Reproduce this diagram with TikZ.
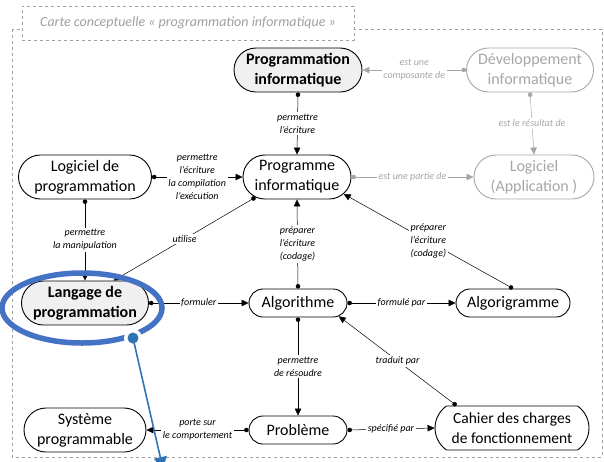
\documentclass[tikz,border=0pt]{standalone}
\usepackage{fontspec}
\setmainfont{Carlito}
\usetikzlibrary{shapes.misc,arrows.meta}

\definecolor{mapgray}{HTML}{A6A6A6}
\definecolor{framegray}{HTML}{A0A0A0}
\definecolor{ringblue}{HTML}{4472C4}
\definecolor{pinblue}{HTML}{2E75B6}

\tikzset{
  concept/.style={rounded rectangle, draw, line width=0.9pt, align=center,
    font=\fontsize{16}{20}\selectfont, inner xsep=1pt, inner ysep=3pt,
    minimum height=44pt},
  keyconcept/.style={concept, fill=black!6, font=\fontsize{16}{20}\selectfont\bfseries},
  faded/.style={concept, draw=mapgray, text=mapgray},
  oneline/.style={minimum height=28pt},
  link/.style={{Circle[length=4.5pt]}-{Triangle[length=7pt,width=6.5pt]}, line width=0.5pt},
  fadedlink/.style={link, draw=mapgray},
  verb/.style={fill=white, align=center, font=\fontsize{10}{13}\selectfont\itshape, inner sep=1.5pt},
  fadedverb/.style={verb, text=mapgray},
  titlebox/.style={draw=framegray, dashed, line width=0.8pt, fill=white, text=framegray,
    font=\fontsize{14}{16}\selectfont\itshape, minimum width=332pt, minimum height=34pt}
}

\begin{document}
\begin{tikzpicture}[x=1pt, y=-1pt]

  \useasboundingbox (0,0) rectangle (604,461);

  % --- frame and title ---
  \draw[framegray, dashed, line width=0.8pt] (12,29) rectangle (602,457);
  \node[titlebox] (title) at (188,23) {Carte conceptuelle « programmation informatique »};

  % --- concepts, top row ---
  \node[keyconcept, minimum width=130pt] (prgm) at (298,70) {Programmation\\informatique};
  \node[faded, minimum width=129pt] (dev) at (530,70) {Développement\\informatique};

  % --- concepts, second row ---
  \node[concept, minimum width=135pt] (logp) at (85,177) {Logiciel de\\programmation};
  \node[concept, minimum width=110pt] (prog) at (297,177) {Programme\\informatique};
  \node[faded, minimum width=122pt] (app) at (534,177) {Logiciel\\(Application )};

  % --- concepts, third row ---
  \node[keyconcept, minimum width=129pt] (lang) at (85,303) {Langage de\\programmation};
  \node[concept, oneline, minimum width=100pt] (algo) at (298,303) {Algorithme};
  \node[concept, oneline, minimum width=116pt] (algg) at (513,303) {Algorigramme};

  % --- concepts, bottom row ---
  \node[concept, rounded rectangle arc length=110, inner xsep=0pt, minimum width=154pt,
    font=\fontsize{15.5}{20}\selectfont] (cdc) at (512,428) {Cahier des charges\\de fonctionnement};
  \node[concept, minimum width=124pt] (sys) at (85,430) {Système\\programmable};
  \node[concept, oneline, minimum width=100pt] (pb) at (298,430) {Problème};

  % --- faded links ---
  \draw[fadedlink] (dev.west) -- node[fadedverb] {est une\\composante de} (prgm.east);
  \draw[fadedlink] (dev.south) -- node[fadedverb] {est le résultat de} (app.north);
  \draw[fadedlink] (prog.east) -- node[fadedverb] {est une partie de} (app.west);

  % --- links ---
  \draw[link] (prgm.south) -- node[verb] {permettre\\l'écriture} (prog.north);
  \draw[link] (logp.east) -- node[verb] {permettre\\l'écriture\\la compilation\\l'exécution} (prog.west);
  \draw[link] (logp.south) -- node[verb] {permettre\\la manipulation} (lang.north);
  \draw[link] (prog.206) -- node[verb] {utilise} (lang.38);
  \draw[link] (algo.north) -- node[verb] {préparer\\l'écriture\\(codage)} (prog.south);
  \draw[link] (algg.north) -- node[verb] {préparer\\l'écriture\\(codage)} (prog.-20);
  \draw[link] (lang.east) -- node[verb] {formuler} (algo.west);
  \draw[link] (algo.east) -- node[verb] {formulé par} (algg.west);
  \draw[link] (algo.south) -- node[verb] {permettre\\de résoudre} (pb.north);
  \draw[link] (cdc.158) -- node[verb] {traduit par} (algo.-18);
  \draw[link] (pb.west) -- node[verb] {porte sur\\le comportement} (sys.east);
  \draw[link] (pb.east) -- node[verb] {spécifié par} (cdc.west);

  % --- blue highlight ---
  \draw[ringblue, line width=5.5pt] (82,308) ellipse [x radius=80, y radius=35];
  \coordinate (pin) at (133,338);
  \coordinate (pinend) at (163,469);
  \fill[white] (pin) circle [radius=9];
  \draw[pinblue, line width=1.6pt, -{Triangle[length=12pt,width=13pt]}] (pin) -- (pinend);
  \fill[pinblue] (pin) circle [radius=5.5];

\end{tikzpicture}
\end{document}
